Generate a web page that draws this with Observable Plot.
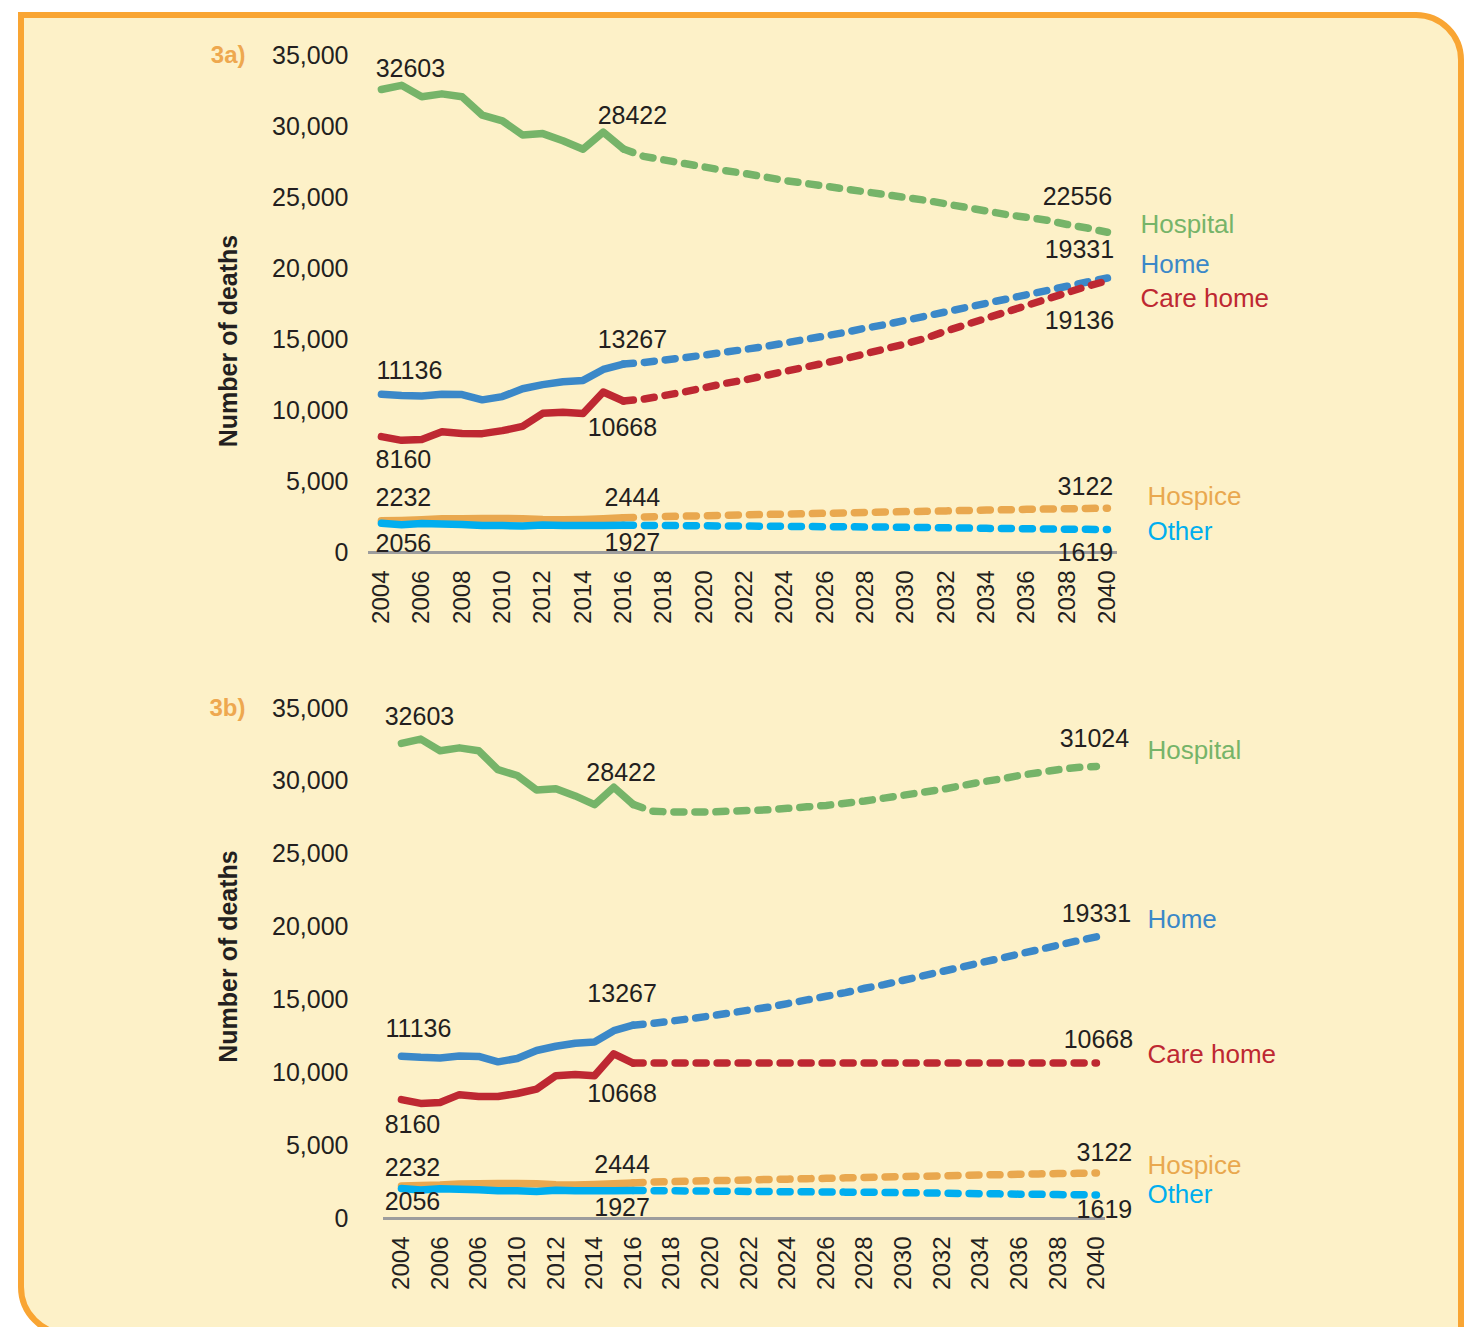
<!DOCTYPE html>
<html><head><meta charset="utf-8">
<script src="https://cdn.jsdelivr.net/npm/d3@7"></script>
<script src="https://cdn.jsdelivr.net/npm/@observablehq/plot@0.6"></script>
<style>
body{margin:0;background:#fff;font-family:"Liberation Sans",Arial,sans-serif;}
#page{position:relative;width:1481px;height:1327px;overflow:hidden;}
#box{position:absolute;left:18px;top:12px;width:1446px;height:1325px;box-sizing:border-box;border:6px solid #f9a533;border-radius:0 48px 0 50px;background:#fdf1c8;}
.panel{position:absolute;left:0;}
</style></head><body>
<div id="page"><div id="box"></div><div id="a" class="panel" style="top:0px"></div><div id="b" class="panel" style="top:650px"></div></div>
<script>
// ---------- data ----------
const seriesNames = ["Hospital", "Home", "Care home", "Hospice", "Other"];
const seriesColors = ["#76b469", "#3b88c8", "#be2832", "#e9a84f", "#00aeef"];

const actualYears = [2004, 2005, 2006, 2007, 2008, 2009, 2010, 2011, 2012, 2013, 2014, 2015, 2016];
const hospitalActual = [32603, 32900, 32100, 32300, 32100, 30800, 30400, 29400, 29500, 29000, 28400, 29600, 28422];
const homeActual     = [11136, 11060, 11020, 11150, 11120, 10750, 10980, 11530, 11820, 12030, 12120, 12890, 13267];
const careActual     = [8160, 7900, 7960, 8500, 8380, 8370, 8580, 8880, 9800, 9880, 9790, 11300, 10668];
const hospiceActual  = [2232, 2260, 2300, 2370, 2380, 2400, 2400, 2380, 2320, 2300, 2330, 2380, 2444];
const otherActual    = [2056, 1960, 2040, 2000, 1980, 1900, 1900, 1860, 1940, 1900, 1900, 1910, 1927];

const projYears = [2016, 2017, 2018, 2019, 2020, 2021, 2022, 2023, 2024, 2025, 2026, 2027, 2028,
                   2029, 2030, 2031, 2032, 2033, 2034, 2035, 2036, 2037, 2038, 2039, 2040];
const hospitalProjA = [28422, 27900, 27650, 27400, 27150, 26900, 26700, 26450, 26200, 26000, 25800, 25600, 25400,
                       25200, 25000, 24800, 24550, 24300, 24050, 23800, 23600, 23400, 23100, 22850, 22556];
const hospitalProjB = [28422, 27950, 27900, 27900, 27900, 27950, 28000, 28050, 28150, 28250, 28350, 28500, 28650,
                       28850, 29050, 29250, 29450, 29700, 29950, 30150, 30400, 30600, 30800, 30950, 31024];
const homeProj      = [13267, 13380, 13550, 13720, 13900, 14100, 14300, 14500, 14750, 15000, 15250, 15500, 15800,
                       16050, 16350, 16650, 16950, 17250, 17550, 17850, 18150, 18450, 18750, 19050, 19331];
const careProjA     = [10668, 10800, 11050, 11300, 11600, 11900, 12150, 12450, 12750, 13050, 13350, 13650, 14000,
                       14350, 14700, 15100, 15600, 16050, 16500, 16950, 17400, 17850, 18300, 18750, 19136];
const careProjB     = [10668, 10668, 10668, 10668, 10668, 10668, 10668, 10668, 10668, 10668, 10668, 10668, 10668,
                       10668, 10668, 10668, 10668, 10668, 10668, 10668, 10668, 10668, 10668, 10668, 10668];
const hospiceProj   = [2444, 2500, 2530, 2560, 2590, 2620, 2650, 2680, 2700, 2730, 2760, 2790, 2820,
                       2850, 2880, 2900, 2930, 2960, 2990, 3010, 3040, 3060, 3080, 3100, 3122];
const otherProj     = [1927, 1910, 1900, 1890, 1880, 1870, 1860, 1850, 1840, 1830, 1820, 1810, 1800,
                       1790, 1770, 1760, 1740, 1720, 1700, 1690, 1670, 1660, 1640, 1630, 1619];

const xTicks = [2004, 2006, 2008, 2010, 2012, 2014, 2016, 2018, 2020, 2022, 2024, 2026, 2028, 2030, 2032, 2034, 2036, 2038, 2040];
const xTickLabelsA = ["2004", "2006", "2008", "2010", "2012", "2014", "2016", "2018", "2020", "2022", "2024", "2026", "2028", "2030", "2032", "2034", "2036", "2038", "2040"];
const xTickLabelsB = ["2004", "2006", "2006", "2010", "2012", "2014", "2016", "2018", "2020", "2022", "2024", "2026", "2028", "2030", "2032", "2034", "2036", "2038", "2040"];
const yTicks = [0, 5000, 10000, 15000, 20000, 25000, 30000, 35000];

// ---------- label placement (offsets in px) ----------
const labelsA = [
  {series: "Hospital", year: 2004, dx: 29, dy: -21}, {series: "Hospital", year: 2016, dx: 9, dy: -33}, {series: "Hospital", year: 2040, dx: -30, dy: -35},
  {series: "Home", year: 2004, dx: 28, dy: -23}, {series: "Home", year: 2016, dx: 9, dy: -24}, {series: "Home", year: 2040, dx: -28, dy: -28},
  {series: "Care home", year: 2004, dx: 22, dy: 23}, {series: "Care home", year: 2016, dx: -1, dy: 27}, {series: "Care home", year: 2040, dx: -28, dy: 40},
  {series: "Hospice", year: 2004, dx: 22, dy: -23}, {series: "Hospice", year: 2016, dx: 9, dy: -20}, {series: "Hospice", year: 2040, dx: -22, dy: -21},
  {series: "Other", year: 2004, dx: 22, dy: 21}, {series: "Other", year: 2016, dx: 9, dy: 18}, {series: "Other", year: 2040, dx: -22, dy: 23}
];
const labelsB = [
  {series: "Hospital", year: 2004, dx: 18, dy: -26}, {series: "Hospital", year: 2016, dx: -12, dy: -31}, {series: "Hospital", year: 2040, dx: -2, dy: -27},
  {series: "Home", year: 2004, dx: 17, dy: -27}, {series: "Home", year: 2016, dx: -11, dy: -31}, {series: "Home", year: 2040, dx: 0, dy: -23},
  {series: "Care home", year: 2004, dx: 11, dy: 25}, {series: "Care home", year: 2016, dx: -11, dy: 31}, {series: "Care home", year: 2040, dx: 2, dy: -23},
  {series: "Hospice", year: 2004, dx: 11, dy: -18}, {series: "Hospice", year: 2016, dx: -11, dy: -18}, {series: "Hospice", year: 2040, dx: 8, dy: -20},
  {series: "Other", year: 2004, dx: 11, dy: 13}, {series: "Other", year: 2016, dx: -11, dy: 18}, {series: "Other", year: 2040, dx: 8, dy: 15}
];
const legendA = [
  {series: "Hospital", dx: 33, dy: -8}, {series: "Home", dx: 33, dy: -13}, {series: "Care home", dx: 33, dy: 18},
  {series: "Hospice", dx: 40, dy: -11}, {series: "Other", dx: 40, dy: 2}
];
const legendB = [
  {series: "Hospital", dx: 51, dy: -16}, {series: "Home", dx: 51, dy: -17}, {series: "Care home", dx: 51, dy: -8},
  {series: "Hospice", dx: 51, dy: -7}, {series: "Other", dx: 51, dy: 0}
];

// ---------- build ----------
function rows(name, years, values) { return years.map((y, i) => ({series: name, year: y, value: values[i]})); }
const actualRows = [
  ...rows("Hospital", actualYears, hospitalActual), ...rows("Home", actualYears, homeActual),
  ...rows("Care home", actualYears, careActual), ...rows("Hospice", actualYears, hospiceActual),
  ...rows("Other", actualYears, otherActual)
];
const projRowsA = [
  ...rows("Hospital", projYears, hospitalProjA), ...rows("Home", projYears, homeProj),
  ...rows("Care home", projYears, careProjA), ...rows("Hospice", projYears, hospiceProj),
  ...rows("Other", projYears, otherProj)
];
const projRowsB = [
  ...rows("Hospital", projYears, hospitalProjB), ...rows("Home", projYears, homeProj),
  ...rows("Care home", projYears, careProjB), ...rows("Hospice", projYears, hospiceProj),
  ...rows("Other", projYears, otherProj)
];
const colorOf = s => seriesColors[seriesNames.indexOf(s)];
const FONT = '"Liberation Sans", Arial, Helvetica, sans-serif';
const TXT = "#231f20";

function panel(o) {
  const all = [...o.proj, ...o.actual];
  const find = (s, y) => all.find(d => d.series === s && d.year === y);
  const labelMarks = o.labels.map(l => {
    const r = find(l.series, l.year);
    return Plot.text([r], {x: "year", y: "value", text: d => String(d.value), dx: l.dx, dy: l.dy,
      fontSize: 25, fill: TXT, textAnchor: "middle"});
  });
  const legendMarks = o.legend.map(l => {
    const r = find(l.series, 2040);
    return Plot.text([r], {x: "year", y: "value", text: "series", dx: l.dx, dy: l.dy,
      fontSize: 26, fill: colorOf(l.series), textAnchor: "start"});
  });
  return Plot.plot({
    width: 1481, height: o.height,
    marginLeft: o.marginLeft, marginRight: o.marginRight, marginTop: o.marginTop, marginBottom: o.marginBottom,
    style: {background: "transparent", fontFamily: FONT, color: TXT, overflow: "visible"},
    x: {domain: o.xDomain},
    y: {domain: [0, 35000]},
    color: {domain: seriesNames, range: seriesColors},
    marks: [
      Plot.ruleY([0], {stroke: "#9d9d9d", strokeWidth: 3}),
      Plot.axisY({ticks: yTicks, tickFormat: d3.format(","), tickSize: 0, tickPadding: o.yPad, fontSize: 25, label: null}),
      Plot.axisX({ticks: xTicks, tickFormat: d => o.tickLabels[xTicks.indexOf(d)], tickRotate: -90, tickSize: 0,
        tickPadding: o.xPad, fontSize: 24, label: null}),
      Plot.line(o.proj, {x: "year", y: "value", z: "series", stroke: "series", strokeWidth: 7.5,
        strokeDasharray: "10,11", strokeLinecap: "round", strokeLinejoin: "round"}),
      Plot.line(o.actual, {x: "year", y: "value", z: "series", stroke: "series", strokeWidth: 7.5,
        strokeLinecap: "round", strokeLinejoin: "round"}),
      ...labelMarks,
      ...legendMarks,
      Plot.text(["Number of deaths"], {frameAnchor: "left", rotate: -90, dx: o.ylabDx, dy: o.ylabDy,
        fontWeight: "bold", fontSize: 25, fill: TXT, textAnchor: "middle", lineAnchor: "middle"}),
      Plot.text([o.tag], {frameAnchor: "top-left", dx: o.tagDx, textAnchor: "end", lineAnchor: "middle",
        fontWeight: "bold", fontSize: 24, fill: "#eea84f"})
    ]
  });
}

document.getElementById("a").append(panel({
  actual: actualRows, proj: projRowsA, labels: labelsA, legend: legendA,
  height: 650, marginLeft: 368, marginRight: 364, marginTop: 55, marginBottom: 98,
  xDomain: [2003.36, 2040.5], tickLabels: xTickLabelsA, yPad: 20, xPad: 18,
  ylabDx: -140, ylabDy: 37, tag: "3a)", tagDx: -123
}));
document.getElementById("b").append(panel({
  actual: actualRows, proj: projRowsB, labels: labelsB, legend: legendB,
  height: 677, marginLeft: 383, marginRight: 376, marginTop: 58, marginBottom: 109,
  xDomain: [2003.07, 2040.47], tickLabels: xTickLabelsB, yPad: 35, xPad: 18,
  ylabDx: -155, ylabDy: -7, tag: "3b)", tagDx: -138
}));
</script>
</body></html>
